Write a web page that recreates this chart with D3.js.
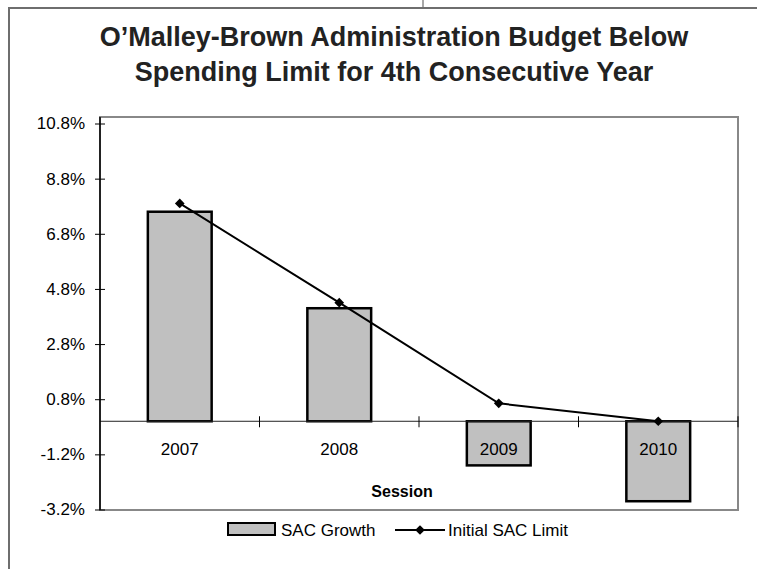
<!DOCTYPE html>
<html>
<head>
<meta charset="utf-8">
<script src="https://cdn.jsdelivr.net/npm/d3@7"></script>
<style>
  html, body { margin: 0; padding: 0; background: #fff; }
  svg { display: block; font-family: "Liberation Sans", Arial, Helvetica, sans-serif; }
</style>
</head>
<body>
<svg id="chart" width="757" height="569"></svg>
<script>
const categories = ["2007", "2008", "2009", "2010"];
const sacGrowth = [7.6, 4.1, -1.6, -2.9];
const initialSacLimit = [7.9, 4.3, 0.65, 0.0];
const yTicks = [-3.2, -1.2, 0.8, 2.8, 4.8, 6.8, 8.8, 10.8];
const yTickLabels = ["-3.2%", "-1.2%", "0.8%", "2.8%", "4.8%", "6.8%", "8.8%", "10.8%"];
const seriesNames = ["SAC Growth", "Initial SAC Limit"];
const titleLines = ["O\u2019Malley-Brown Administration Budget Below", "Spending Limit for 4th Consecutive Year"];
const xTitle = "Session";

const svg = d3.select("#chart");

// outer frame (partially visible)
svg.append("path").attr("d", "M9,569V8H757").attr("fill", "none").attr("stroke", "#6e6e6e").attr("stroke-width", 2);
svg.append("line").attr("x1", 423).attr("x2", 423).attr("y1", 0).attr("y2", 7).attr("stroke", "#a8a8a8").attr("stroke-width", 2);

// title
svg.append("g").selectAll("text").data(titleLines).join("text")
  .attr("x", 394).attr("y", (d, i) => 46 + i * 35)
  .attr("text-anchor", "middle").attr("font-size", 27).attr("font-weight", "bold").attr("fill", "#222")
  .text(d => d);

const plot = { left: 100, right: 738, top: 117, bottom: 510 };

const x = d3.scaleBand().domain(categories).range([plot.left, plot.right]).paddingInner(0.6).paddingOuter(0.3);
const y = d3.scaleLinear().domain([-3.2, 10.8]).range([509.5, 123.5]);

// plot area border
svg.append("rect").attr("x", plot.left).attr("y", plot.top)
  .attr("width", plot.right - plot.left).attr("height", plot.bottom - plot.top)
  .attr("fill", "#fff").attr("stroke", "#888").attr("stroke-width", 2);

// bars
svg.append("g").selectAll("rect").data(categories).join("rect")
  .attr("x", d => x(d))
  .attr("width", x.bandwidth())
  .attr("y", (d, i) => Math.min(y(sacGrowth[i]), y(0)))
  .attr("height", (d, i) => Math.abs(y(sacGrowth[i]) - y(0)))
  .attr("fill", "#c0c0c0").attr("stroke", "#000").attr("stroke-width", 2.5);

// zero line
svg.append("line").attr("x1", plot.left).attr("x2", plot.right).attr("y1", y(0)).attr("y2", y(0))
  .attr("stroke", "#222").attr("stroke-width", 1);

// category boundary ticks
svg.append("g").selectAll("line").data(categories).join("line")
  .attr("x1", d => x(d) + x.bandwidth() / 2 + x.step() / 2)
  .attr("x2", d => x(d) + x.bandwidth() / 2 + x.step() / 2)
  .attr("y1", y(0) - 5).attr("y2", y(0) + 6)
  .attr("stroke", "#000").attr("stroke-width", 1);

// category labels
svg.append("g").selectAll("text").data(categories).join("text")
  .attr("x", d => x(d) + x.bandwidth() / 2).attr("y", 455)
  .attr("text-anchor", "middle").attr("font-size", 17).attr("fill", "#000")
  .text(d => d);

// y axis
const yAxis = svg.append("g").attr("transform", `translate(${plot.left},0)`)
  .call(d3.axisLeft(y).tickValues(yTicks).tickFormat((d, i) => yTickLabels[i]).tickSize(5).tickPadding(10));
yAxis.select(".domain").remove();
yAxis.selectAll(".tick line").attr("x1", 5).attr("x2", -5).attr("stroke", "#000");
yAxis.selectAll(".tick text").attr("font-size", 17).attr("font-family", "Liberation Sans, Arial, sans-serif").attr("fill", "#000");
svg.append("line").attr("x1", plot.left).attr("x2", plot.left).attr("y1", plot.top).attr("y2", plot.bottom)
  .attr("stroke", "#000").attr("stroke-width", 1.5);

// line series
const line = d3.line().x((d, i) => x(categories[i]) + x.bandwidth() / 2).y(d => y(d));
svg.append("path").datum(initialSacLimit).attr("d", line)
  .attr("fill", "none").attr("stroke", "#000").attr("stroke-width", 2);
const diamond = d3.symbol().type(d3.symbolDiamond2).size(60);
svg.append("g").selectAll("path").data(initialSacLimit).join("path")
  .attr("d", diamond)
  .attr("transform", (d, i) => `translate(${x(categories[i]) + x.bandwidth() / 2},${y(d)})`)
  .attr("fill", "#000");

// x title
svg.append("text").attr("x", 402).attr("y", 497).attr("text-anchor", "middle")
  .attr("font-size", 16).attr("font-weight", "bold").text(xTitle);

// legend
const lg = svg.append("g");
lg.append("rect").attr("x", 228).attr("y", 523).attr("width", 47).attr("height", 12)
  .attr("fill", "#c0c0c0").attr("stroke", "#000").attr("stroke-width", 2);
lg.append("text").attr("x", 281).attr("y", 536).attr("font-size", 17).text(seriesNames[0]);
lg.append("line").attr("x1", 395).attr("x2", 445).attr("y1", 530).attr("y2", 530).attr("stroke", "#000").attr("stroke-width", 2);
lg.append("path").attr("d", diamond).attr("transform", "translate(420,530)").attr("fill", "#000");
lg.append("text").attr("x", 448).attr("y", 536).attr("font-size", 17).text(seriesNames[1]);
</script>
</body>
</html>
